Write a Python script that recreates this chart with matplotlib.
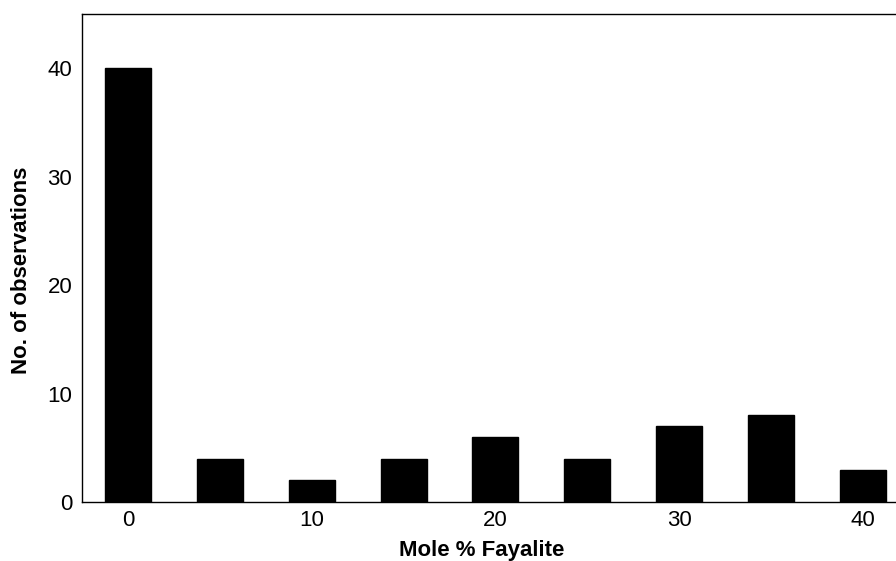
import matplotlib
matplotlib.use("Agg")
import matplotlib.pyplot as plt

# ── Data ──────────────────────────────────────────────────────────────────────
fayalite = [0, 5, 10, 15, 20, 25, 30, 35, 40]
counts   = [40, 4, 2, 4, 6, 4, 7, 8, 3]

plt.rcParams["font.family"] = ["Liberation Sans", "DejaVu Sans"]

fig = plt.figure(figsize=(8.96, 5.61), dpi=100)
ax = fig.add_axes([0.0915, 0.105, 0.9085, 0.87])

ax.bar(fayalite, counts, width=2.5, color="black", edgecolor="black")

ax.set_xlim(-2.5, 41.8)
ax.set_ylim(0, 45)
ax.set_xticks([0, 10, 20, 30, 40])
ax.set_yticks([0, 10, 20, 30, 40])
ax.tick_params(length=0, labelsize=16)
ax.tick_params(axis="y", pad=7)
ax.tick_params(axis="x", pad=6)

ax.spines["right"].set_visible(False)
for s in ("left", "bottom", "top"):
    ax.spines[s].set_linewidth(1.0)

ax.set_xlabel("Mole % Fayalite", fontsize=16, fontweight="bold")
ax.set_ylabel("No. of observations", fontsize=16, fontweight="bold")
ax.xaxis.set_label_coords(0.491, -0.078)
ax.yaxis.set_label_coords(-0.062, 0.475)

fig.savefig("out.png", dpi=100)
